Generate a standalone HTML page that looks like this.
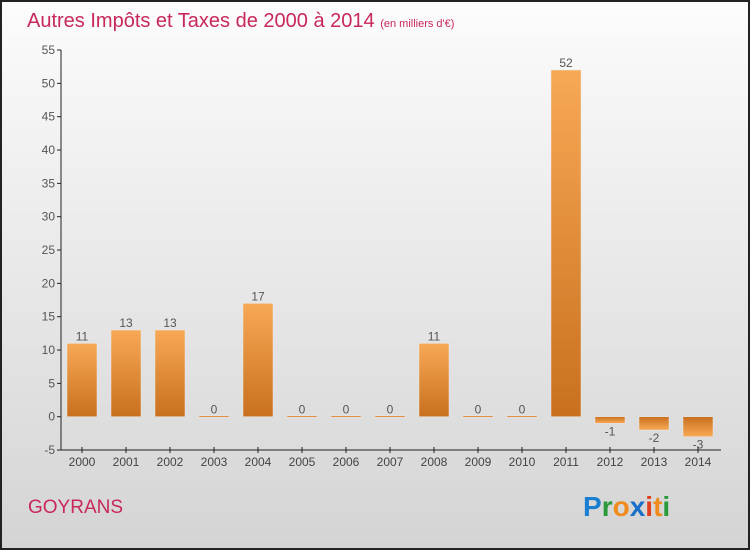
<!DOCTYPE html>
<html><head><meta charset="utf-8"><style>
body{margin:0;width:750px;height:550px;overflow:hidden;font-family:"Liberation Sans",sans-serif;}
</style></head><body>
<svg id="chart" width="750" height="550" xmlns="http://www.w3.org/2000/svg">
<defs>
<linearGradient id="bg" x1="0" y1="0" x2="0" y2="1"><stop offset="0" stop-color="#fcfcfc"/><stop offset="1" stop-color="#d4d4d4"/></linearGradient>
<linearGradient id="barg" x1="0" y1="0" x2="0" y2="1"><stop offset="0" stop-color="#f8a955"/><stop offset="1" stop-color="#c8701e"/></linearGradient>
<linearGradient id="barn" x1="0" y1="0" x2="0" y2="1"><stop offset="0" stop-color="#c8701e"/><stop offset="1" stop-color="#f8a955"/></linearGradient>
</defs>
<rect x="1" y="1" width="748" height="548" fill="url(#bg)" stroke="#222" stroke-width="2"/>
<text x="27" y="27" font-size="20" fill="#c8285a">Autres Impôts et Taxes de 2000 à 2014 <tspan font-size="11">(en milliers d'€)</tspan></text>
<g id="grid"></g><g id="bars"></g><g id="axes"></g>
<text x="28" y="513" font-size="19" fill="#c8285a">GOYRANS</text>
<g font-size="28" font-weight="bold" font-family="'Liberation Sans',sans-serif">
<text x="583" y="516"><tspan fill="#1a7fd0">P</tspan><tspan fill="#2a9a3a">r</tspan><tspan fill="#f08c1e">o</tspan><tspan fill="#1a70c8">x</tspan><tspan fill="#e04020">i</tspan><tspan fill="#f08c1e">t</tspan><tspan fill="#2a9a3a">i</tspan></text>
</g>
</svg>
<script>
const years=["2000","2001","2002","2003","2004","2005","2006","2007","2008","2009","2010","2011","2012","2013","2014"];
const values=[11,13,13,0,17,0,0,0,11,0,0,52,-1,-2,-3];
const yTicks=[-5,0,5,10,15,20,25,30,35,40,45,50,55];
const NS="http://www.w3.org/2000/svg";
const y=v=>416.7-v*6.667;
const x=i=>82+i*44;
function mk(t,a,p){const e=document.createElementNS(NS,t);for(const k in a)e.setAttribute(k,a[k]);p.appendChild(e);return e;}
const gG=document.getElementById('grid'),gB=document.getElementById('bars'),gA=document.getElementById('axes');
yTicks.forEach(v=>{
 const l=mk('line',{x1:57,x2:61,y1:y(v),y2:y(v),stroke:'#222'},gA);
 
 
 const t=mk('text',{x:55,y:y(v)+4,'text-anchor':'end','font-size':12,fill:'#555'},gA);t.textContent=v;
 
 
});
let ax=mk('line',{x1:61,x2:61,y1:y(55),y2:y(-5),stroke:'#222'},gA);


ax=mk('line',{x1:61,x2:721,y1:y(-5),y2:y(-5),stroke:'#222'},gA);


years.forEach((yr,i)=>{
 const v=values[i];
 const top=v>=0?y(v):y(0), h=Math.max(Math.abs(y(v)-y(0)),1.5);
 const r=mk('rect',{x:x(i)-15,y:v===0?y(0)-1:top,width:30,height:h,fill:v>=0?'url(#barg)':'url(#barn)',stroke:'#e8e8e8','stroke-width':0.5},gB);
 
 
 const vt=mk('text',{x:x(i),y:v>=0?y(v)-3:y(v)+12,'text-anchor':'middle','font-size':12,fill:'#555'},gB);vt.textContent=v;
 
 
 const tk=mk('line',{x1:x(i),x2:x(i),y1:y(-5)-3,y2:y(-5)+3,stroke:'#222'},gA);
 
 
 const xt=mk('text',{x:x(i),y:466,'text-anchor':'middle','font-size':12,fill:'#444'},gA);xt.textContent=yr;
 
 
});
</script>
</body></html>
